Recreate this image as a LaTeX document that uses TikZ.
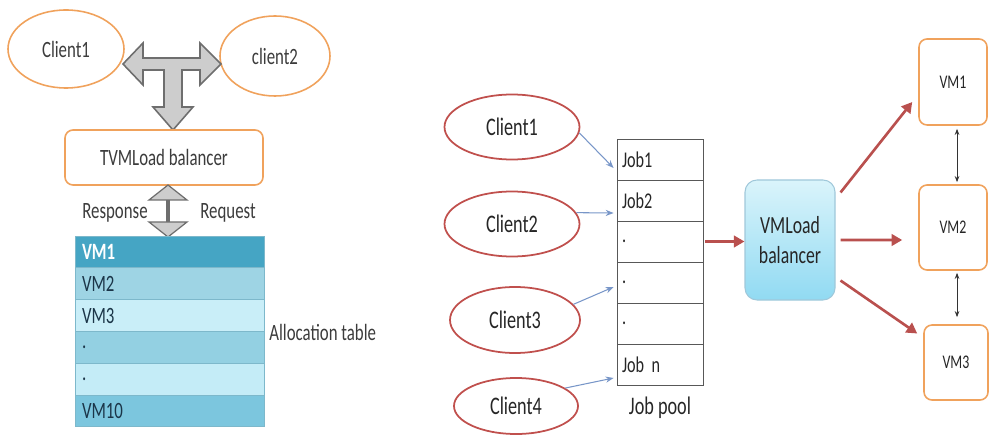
\documentclass[tikz,border=0pt]{standalone}
\usepackage{fontspec}
\setmainfont[FakeStretch=0.72]{Carlito}
\usetikzlibrary{shapes.geometric,arrows.meta}
\definecolor{orangeC}{RGB}{240,162,92}
\definecolor{redC}{RGB}{192,80,77}
\definecolor{blueA}{RGB}{120,150,200}
\definecolor{redA}{RGB}{185,80,78}
\definecolor{grayF}{RGB}{205,205,205}
\definecolor{grayD}{RGB}{110,110,110}
\definecolor{txtL}{RGB}{60,60,60}
\definecolor{txtR}{RGB}{38,38,38}
\definecolor{tabT}{RGB}{27,53,72}
\definecolor{rA}{RGB}{69,165,196}
\definecolor{rB}{RGB}{158,212,228}
\definecolor{rC}{RGB}{201,238,248}
\definecolor{rD}{RGB}{147,208,226}
\definecolor{rE}{RGB}{196,236,247}
\definecolor{rF}{RGB}{124,198,222}
\definecolor{lbTop}{RGB}{218,244,251}
\definecolor{lbBot}{RGB}{145,218,242}
\definecolor{lbEdge}{RGB}{160,200,218}
\tikzset{
  sz/.style 2 args={minimum width=#1*0.02cm, minimum height=#2*0.02cm},
  lell/.style={ellipse, draw=orangeC, line width=0.9pt, inner sep=0pt, text=txtL, font=\fontsize{13.3}{15}\selectfont},
  rell/.style={ellipse, draw=redC, line width=1pt, inner sep=0pt, text=txtR, font=\fontsize{14.4}{16}\selectfont},
  obox/.style={rectangle, rounded corners=0.16cm, draw=orangeC, line width=0.9pt, inner sep=0pt, fill=white},
  lbl/.style={inner sep=0pt, text=txtL, font=\fontsize{13.3}{15}\selectfont},
  trow/.style={rectangle, draw=rF!80!gray, line width=0.4pt, inner xsep=7*0.02cm, inner ysep=0pt,
     text width=175*0.02cm, minimum height=31.8*0.02cm, align=left, text=tabT, font=\fontsize{13.3}{15}\selectfont},
  jrow/.style={rectangle, draw=grayD!80!black, line width=0.5pt, inner xsep=5*0.02cm, inner ysep=0pt,
     text width=76*0.02cm, minimum height=41*0.02cm, align=left, text=txtR, font=\fontsize{12.8}{14}\selectfont},
  tarrow/.style={fill=grayF, draw=grayD, line width=0.9pt, line join=miter},
  bluearr/.style={draw=blueA, line width=0.6pt, -{Stealth[length=4.5pt,width=3.5pt]}},
  redarr/.style={draw=redA, line width=1.5pt, -{Triangle[length=6pt,width=6.5pt]}},
  blkarr/.style={draw=black!80, line width=0.5pt, {Stealth[length=3.5pt,width=2.6pt]}-{Stealth[length=3.5pt,width=2.6pt]}},
}
\begin{document}
\begin{tikzpicture}[x=0.02cm,y=-0.02cm]
\useasboundingbox (0,0) rectangle (989,435);

% ---------- left part ----------
\node[lell, sz={116}{78}] (lc1) at (66,49) {Client1};
\node[lell, sz={110}{80}] (lc2) at (275,56) {client2};

% T-shaped three-way arrow
\draw[tarrow] (123,64) -- (143,43) -- (143,58) -- (200,58) -- (200,43) -- (221,64)
  -- (200,85) -- (200,70) -- (182,70) -- (182,107) -- (193,107) -- (173,130)
  -- (153,107) -- (164,107) -- (164,70) -- (143,70) -- (143,85) -- cycle;

\node[obox, sz={198}{55}, text=txtL, font=\fontsize{13.3}{15}\selectfont] (tvm) at (164,157.5) {TVMLoad balancer};

% Response / Request double arrow
\draw[grayD, line width=2pt] (168,199) -- (168,223);
\draw[tarrow, line width=0.7pt] (168,185) -- (187,200) -- (149,200) -- cycle;
\draw[tarrow, line width=0.7pt] (149,222) -- (187,222) -- (168,237) -- cycle;
\node[lbl] (resp) at (115,213) {Response};
\node[lbl] (req) at (228,213) {Request};

% Allocation table
\node[trow, fill=rA, text=white, font=\fontsize{13.3}{15}\selectfont\bfseries] (t1) at (169.5,251.9) {VM1};
\node[trow, fill=rB] (t2) at (169.5,283.7) {VM2};
\node[trow, fill=rC] (t3) at (169.5,315.5) {VM3};
\node[trow, fill=rD] (t4) at (169.5,347.3) {.};
\node[trow, fill=rE] (t5) at (169.5,379.1) {.};
\node[trow, fill=rF] (t6) at (169.5,410.9) {VM10};
\node[lbl, anchor=west] (alloc) at (269,332) {Allocation table};

% ---------- right part ----------
\node[rell, sz={135}{65}] (rc1) at (512,127) {Client1};
\node[rell, sz={135}{65}] (rc2) at (512,224) {Client2};
\node[rell, sz={130}{66}] (rc3) at (515,320) {Client3};
\node[rell, sz={124}{56}] (rc4) at (516,406) {Client4};

\node[jrow] (j1) at (660,159.5) {Job1};
\node[jrow] (j2) at (660,200.5) {Job2};
\node[jrow] (j3) at (660,241.5) {.};
\node[jrow] (j4) at (660,282.5) {.};
\node[jrow] (j5) at (660,323.5) {.};
\node[jrow] (j6) at (660,364.5) {Job n};
\node[inner sep=0pt, text=txtR, font=\fontsize{14.4}{16}\selectfont] (pool) at (660,408) {Job pool};

\draw[bluearr] (rc1.-5) -- ([shift={(-3,8.5)}]j1.west);
\draw[bluearr] (rc2.10) -- ([shift={(-3,12.5)}]j2.west);
\draw[bluearr] (rc3.15) -- ([shift={(-3,4.5)}]j4.west);
\draw[bluearr] (rc4.20) -- ([shift={(-3,13.5)}]j6.west);

\node[rectangle, rounded corners=0.24cm, draw=lbEdge, line width=0.6pt,
      top color=lbTop, bottom color=lbBot, sz={90}{120}, align=center, inner sep=0pt,
      text=txtR, font=\fontsize{14}{17}\selectfont] (lb) at (790,240) {VMLoad\\balancer};

\node[obox, sz={68}{86}, text=txtR, font=\fontsize{11}{13}\selectfont] (vm1) at (953,82) {VM1};
\node[obox, sz={68}{85}, text=txtR, font=\fontsize{11}{13}\selectfont] (vm2) at (953,227.5) {VM2};
\node[obox, sz={64}{75}, text=txtR, font=\fontsize{11}{13}\selectfont] (vm3) at (956,362.5) {VM3};

\draw[redarr] ([shift={(2,0)}]j3.east) -- (j3.east -| lb.west);
\draw[redarr] ([shift={(5,13)}]lb.north east) -- ([shift={(-6,20)}]vm1.west);
\draw[redarr] ([shift={(5,0)}]lb.east) -- ([shift={(-16,12.5)}]vm2.west);
\draw[redarr] ([shift={(5,-20)}]lb.south east) -- ([shift={(-6,-29)}]vm3.west);

\draw[blkarr] ([shift={(4,3)}]vm1.south) -- ([shift={(4,-2)}]vm2.north);
\draw[blkarr] ([shift={(4,2)}]vm2.south) -- ([shift={(1,-7)}]vm3.north);
\end{tikzpicture}
\end{document}
